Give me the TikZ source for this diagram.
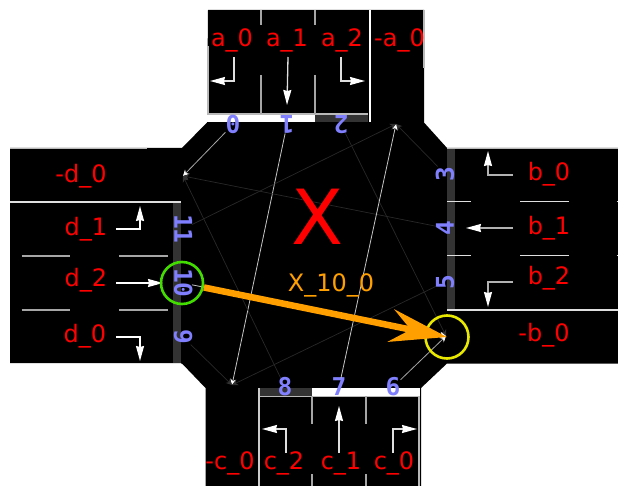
\documentclass[tikz,border=0pt]{standalone}
\usepackage{fontspec}
\setmainfont{DejaVu Sans}
\setmonofont{DejaVu Sans Mono}
\usetikzlibrary{arrows.meta,positioning}
\definecolor{portblue}{RGB}{128,128,255}
\definecolor{barlow}{RGB}{51,51,51}
\definecolor{flowlow}{RGB}{40,40,40}
\definecolor{moveorange}{RGB}{255,160,0}
\definecolor{ringgreen}{RGB}{68,221,0}
\definecolor{ringyellow}{RGB}{232,232,0}

\begin{document}
\begin{tikzpicture}[
    x=1pt, y=-1pt,
    lane/.style={text=red, inner sep=0pt, text height=17.5pt, text depth=0pt, font=\fontsize{24}{24}\selectfont},
    port/.style={text=portblue, inner sep=0pt, text height=17.5pt, text depth=0pt, font=\fontsize{24.5}{24.5}\selectfont\ttfamily\bfseries},
    edgeline/.style={draw=gray!55, line width=1.3pt},
    stripe/.style={draw=gray!70, line width=1.2pt},
    barlight/.style={fill=white},
    bardark/.style={fill=barlow},
    turn/.style={draw=#1, line width=1.3pt, -{Stealth[white, length=15pt, width=8pt, inset=1pt]}},
    turn/.default=white,
    flowlit/.style={draw=gray!45, line width=.8pt, -{Stealth[white, length=6pt, width=6pt]}},
    flowmid/.style={draw=gray!70, line width=.8pt, -{Stealth[white, length=6pt, width=6pt]}},
    flowdim/.style={draw=flowlow, line width=.7pt, -{Stealth[barlow, length=6pt, width=6pt]}}
]
\useasboundingbox (0,0) rectangle (618,486);
% junction and arms
\fill[black] (208,10) -- (424,10) -- (424,122.5) -- (447,148) -- (618,148) -- (618,363.5) -- (447,363.5)
  -- (421,388) -- (421,486) -- (205.5,486) -- (205.5,388) -- (182,363.5) -- (10,363.5) -- (10,148)
  -- (182,148) -- (207,122.5) -- cycle;

% stop bars
\fill[barlight] (207,115) rectangle (315,122.5);
\fill[bardark] (315,115) rectangle (368,122.5);
\fill[bardark] (447,148.5) rectangle (455,310);
\fill[barlight] (312,388) rectangle (420,396);
\fill[bardark] (259,388) rectangle (312,396);
\fill[bardark] (173,203) rectangle (181,363);

% arm a
\draw[edgeline] (208,46) -- (208,114) -- (368,114);
\draw[edgeline] (424,10) -- (424,68);
\draw[draw=white, line width=2.7pt] (370,10) -- (370,122.5);
\draw[stripe] (261,10) -- (261,25) (261,75) -- (261,114);
\draw[stripe] (315,10) -- (315,25) (315,75) -- (315,114);
% arm b
\draw[edgeline] (447,148.5) -- (618,148.5);
\draw[draw=gray!25, line width=1.3pt] (447,310) -- (618,310);
\draw[stripe, gray!25] (447,201.5) -- (471,201.5) (520,201.5) -- (569,201.5) (616.5,201.5) -- (618,201.5);
\draw[stripe, gray!25] (447,255.5) -- (471,255.5) (520,255.5) -- (569,255.5) (616.5,255.5) -- (618,255.5);
% arm c
\draw[edgeline] (259,396.5) -- (419,396.5) -- (419,486);
\draw[draw=gray!40, line width=1.5pt] (259,388) -- (259,486);
\draw[stripe] (312,396) -- (312,424) (312,474) -- (312,486);
\draw[stripe] (366,396) -- (366,424) (366,474) -- (366,486);
% arm d
\draw[edgeline] (10,148.5) -- (147,148.5);
\draw[draw=gray!25, line width=1.3pt] (10,202) -- (181,202);
\draw[draw=gray!25, line width=1.3pt] (10,363.5) -- (181,363.5);
\draw[stripe] (21.5,256) -- (70,256) (119,256) -- (168,256);
\draw[stripe] (21.5,310) -- (70,310) (119,310) -- (168,310);

% ports
\node[port, rotate=180] (p0) at (233,124.5) {0};
\node[port, rotate=180, right=54pt of p0.center, anchor=center] (p1) {1};
\node[port, rotate=180, right=54pt of p1.center, anchor=center] (p2) {2};
\node[port, rotate=90] (p3) at (445,174) {3};
\node[port, rotate=90, below=54pt of p3.center, anchor=center] (p4) {4};
\node[port, rotate=90, below=54pt of p4.center, anchor=center] (p5) {5};
\node[port] (p6) at (393,387) {6};
\node[port, left=54pt of p6.center, anchor=center] (p7) {7};
\node[port, left=54pt of p7.center, anchor=center] (p8) {8};
\node[port, rotate=-90] (p9) at (183,337) {9};
\node[port, rotate=-90, above=54pt of p9.center, anchor=center] (p10) {10};
\node[port, rotate=-90, above=54pt of p10.center, anchor=center] (p11) {11};

% exits
\coordinate (outa) at (396,124);
\coordinate (outb) at (446,336);
\coordinate (outc) at (232,385);
\coordinate (outd) at (183,176);

% links through the junction
\draw[flowmid] (p0) -- (outd);
\draw[flowlit] (p1) -- (outc);
\draw[flowdim] (p2) -- (outb);
\draw[flowdim] (p3) -- (outa);
\draw[flowdim] (p4) -- (outd);
\draw[flowdim] (p5) -- (outc);
\draw[flowmid] (p6) -- (outb);
\draw[flowlit] (p7) -- (outa);
\draw[flowdim] (p8) -- (outd);
\draw[flowdim] (p9) -- (outc);
\draw[flowlit] (p10) -- (outb);
\draw[flowdim] (p11) -- (outa);

% lane names
\node[lane] (a0) at (232,38) {a\_0};
\node[lane, right=55pt of a0.center, anchor=center] (a1) {a\_1};
\node[lane, right=55pt of a1.center, anchor=center] (a2) {a\_2};
\node[lane] (na0) at (399.5,38) {-a\_0};
\node[lane] (b0) at (549,172) {b\_0};
\node[lane, below=54pt of b0.center, anchor=center] (b1) {b\_1};
\node[lane, below=50pt of b1.center, anchor=center] (b2) {b\_2};
\node[lane] (nb0) at (544,333) {-b\_0};
\node[lane] (c0) at (394,461) {c\_0};
\node[lane, left=53pt of c0.center, anchor=center] (c1) {c\_1};
\node[lane, left=57pt of c1.center, anchor=center] (c2) {c\_2};
\node[lane] (nc0) at (230,461) {-c\_0};
\node[lane] (d1) at (86,227) {d\_1};
\node[lane, below=51pt of d1.center, anchor=center] (d2) {d\_2};
\node[lane] (d0) at (85,334) {d\_0};
\node[lane] (nd0) at (81,174) {-d\_0};

% turn arrows, start and end of each
\coordinate (a0s) at (234,57); \coordinate (a0e) at (210,81);
\coordinate (a1s) at (288,57); \coordinate (a1e) at (287,105);
\coordinate (a2s) at (341,57); \coordinate (a2e) at (365,81);
\coordinate (b0s) at (513,175); \coordinate (b0e) at (488,151);
\coordinate (b1s) at (513,228); \coordinate (b1e) at (466,228);
\coordinate (b2s) at (513,282); \coordinate (b2e) at (488,307);
\coordinate (c0s) at (393,453); \coordinate (c0e) at (417,429);
\coordinate (c1s) at (339,453); \coordinate (c1e) at (339,406);
\coordinate (c2s) at (286,453); \coordinate (c2e) at (262,429);
\coordinate (d0s) at (116,337); \coordinate (d0e) at (140,361);
\coordinate (d1s) at (116,229); \coordinate (d1e) at (140,206);
\coordinate (d2s) at (116,283); \coordinate (d2e) at (163,283);
\draw[turn=gray!25] (a0s) |- (a0e);
\draw[turn=gray!25] (a1s) -- (a1e);
\draw[turn=gray!25] (a2s) |- (a2e);
\draw[turn=gray!60] (b0s) -| (b0e);
\draw[turn=gray!60] (b1s) -- (b1e);
\draw[turn=gray!60] (b2s) -| (b2e);
\draw[turn=gray!25] (c0s) |- (c0e);
\draw[turn=gray!25] (c1s) -- (c1e);
\draw[turn=gray!25] (c2s) |- (c2e);
\draw[turn] (d0s) -| (d0e);
\draw[turn] (d1s) -| (d1e);
\draw[turn] (d2s) -- (d2e);

% junction name and current move
\node[text=red, inner sep=0pt, text height=55.5pt, text depth=0pt, font=\fontsize{76}{76}\selectfont] (junction) at (318,217) {X};
\node[text=moveorange, inner sep=0pt, text height=17.5pt, text depth=0pt, font=\fontsize{24}{24}\selectfont] (move) at (331,283) {X\_10\_0};
\node[circle, draw=ringgreen, line width=2.6pt, minimum size=42pt, inner sep=0pt] (from) at (182,283) {};
\node[circle, draw=ringyellow, line width=2.6pt, minimum size=43pt, inner sep=0pt] (to) at (447,337) {};
\draw[draw=moveorange, line width=6.5pt, -{Stealth[moveorange, length=57pt, width=33pt, inset=20pt]}] (from) -- (to.center);
\end{tikzpicture}
\end{document}
